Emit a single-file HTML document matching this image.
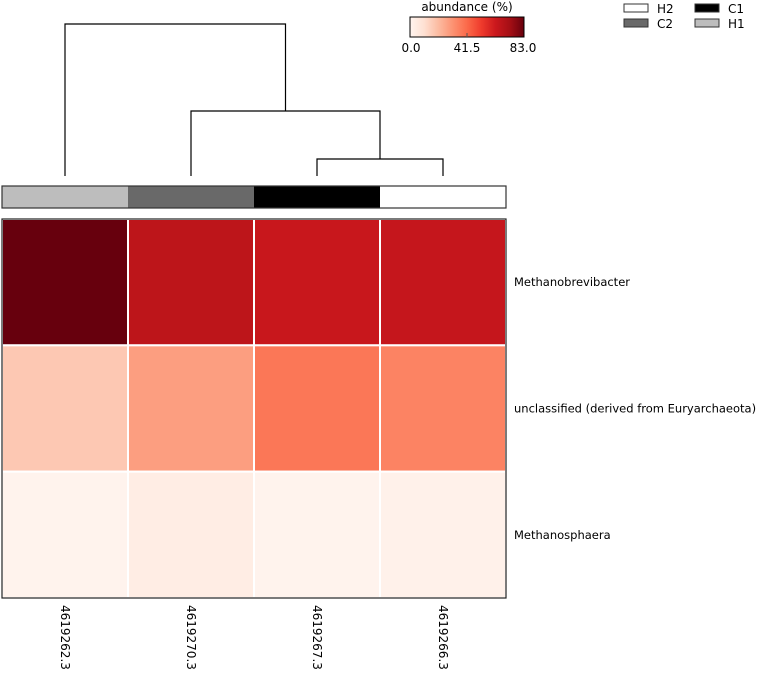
<!DOCTYPE html>
<html><head><meta charset="utf-8"><style>
body{margin:0;background:#fff;}
svg text{font-family:"DejaVu Sans","Liberation Sans",sans-serif;font-size:12px;fill:#000;}
svg text.rl{font-size:11.5px;}
</style></head><body>
<svg id="c" width="762" height="669" xmlns="http://www.w3.org/2000/svg">
<defs><linearGradient id="g" x1="0" x2="1" y1="0" y2="0">
<stop offset="0" stop-color="#fff5f0"/><stop offset="0.125" stop-color="#fee0d2"/><stop offset="0.25" stop-color="#fcbba1"/><stop offset="0.375" stop-color="#fc9272"/><stop offset="0.5" stop-color="#fb6a4a"/><stop offset="0.625" stop-color="#ef3b2c"/><stop offset="0.75" stop-color="#cb181d"/><stop offset="0.875" stop-color="#a50f15"/><stop offset="1" stop-color="#67000d"/></linearGradient></defs>
</svg>
<script>
const samples=["4619262.3","4619270.3","4619267.3","4619266.3"];
const groups=["H1","C2","C1","H2"];
const taxa=["Methanobrevibacter","unclassified (derived from Euryarchaeota)","Methanosphaera"];
const row0=[83,66,63,64];
const row1=[17,28,38,35];
const row2=[1,4,1,2];
const vmax=83;
const values=[row0,row1,row2];
const groupColors={H1:"#bdbdbd",C2:"#696969",C1:"#000000",H2:"#ffffff"};
const stops=["#fff5f0","#fee0d2","#fcbba1","#fc9272","#fb6a4a","#ef3b2c","#cb181d","#a50f15","#67000d"];
function hex(h){return [1,3,5].map(i=>parseInt(h.substr(i,2),16));}
function cmap(v){let t=Math.max(0,Math.min(1,v/vmax))*8;let i=Math.min(7,Math.floor(t));let f=t-i;
const a=hex(stops[i]),b=hex(stops[i+1]);return "rgb("+a.map((x,k)=>Math.round(x+(b[k]-x)*f)).join(",")+")";}
const svg=document.getElementById('c');const NS="http://www.w3.org/2000/svg";
function el(t,a,p){const e=document.createElementNS(NS,t);for(const k in a)e.setAttribute(k,a[k]);(p||svg).appendChild(e);return e;}
const X0=2,X1=506,Y0=219,Y1=598;
const cw=(X1-X0)/samples.length,rh=(Y1-Y0)/taxa.length;
const xs=i=>X0+cw*i, ys=j=>Y0+rh*j;
groups.forEach((g,i)=>{const r=el('rect',{x:xs(i),y:186,width:cw,height:22,fill:groupColors[g]});

});
el('rect',{x:X0,y:186,width:X1-X0,height:22,fill:'none',stroke:'#333','stroke-width':1.2});
values.forEach((row,j)=>row.forEach((v,i)=>{const r=el('rect',{x:xs(i),y:ys(j),width:cw,height:rh,fill:cmap(v),stroke:'#fff','stroke-width':2});

}));
el('rect',{x:X0,y:Y0,width:X1-X0,height:Y1-Y0,fill:'none',stroke:'#222','stroke-width':1.2});
taxa.forEach((t,j)=>{const e=el('text',{x:514,y:ys(j)+rh/2+4,'class':'rl'});e.textContent=t;

});
samples.forEach((s,i)=>{const cx=xs(i)+cw/2;const e=el('text',{x:cx-4,y:605,transform:`rotate(90 ${cx-4} 605)`});e.textContent=s;

});
const c=i=>xs(i)+cw/2;
const dg=el('g',{fill:'none',stroke:'#000','stroke-width':1.2});


function link(a,ya,b,yb,h){el('path',{d:`M${a},${ya}V${h}H${b}V${yb}`},dg);}
link(c(2),176,c(3),176,159);const m1=(c(2)+c(3))/2;
link(c(1),176,m1,159,111);const m2=(c(1)+m1)/2;
link(c(0),176,m2,111,24);
const cb=el('rect',{x:410,y:17,width:114,height:20,fill:'url(#g)',stroke:'#000','stroke-width':1});


el('line',{x1:467,x2:467,y1:33,y2:37,stroke:'#555'});
const ct=el('text',{x:467,y:11,'text-anchor':'middle'});ct.textContent="abundance (%)";


[["0.0",411],["41.5",467],["83.0",523]].forEach(([t,x])=>{const e=el('text',{x:x,y:52,'text-anchor':'middle'});e.textContent=t;

});
[["H2",624,4],["C1",695,4],["C2",624,19],["H1",695,19]].forEach(([g,x,y])=>{
const r=el('rect',{x:x,y:y,width:24,height:8,fill:groupColors[g],stroke:'#333','stroke-width':1});


const t=el('text',{x:x+33,y:y+9});t.textContent=g;

});
</script>
</body></html>
